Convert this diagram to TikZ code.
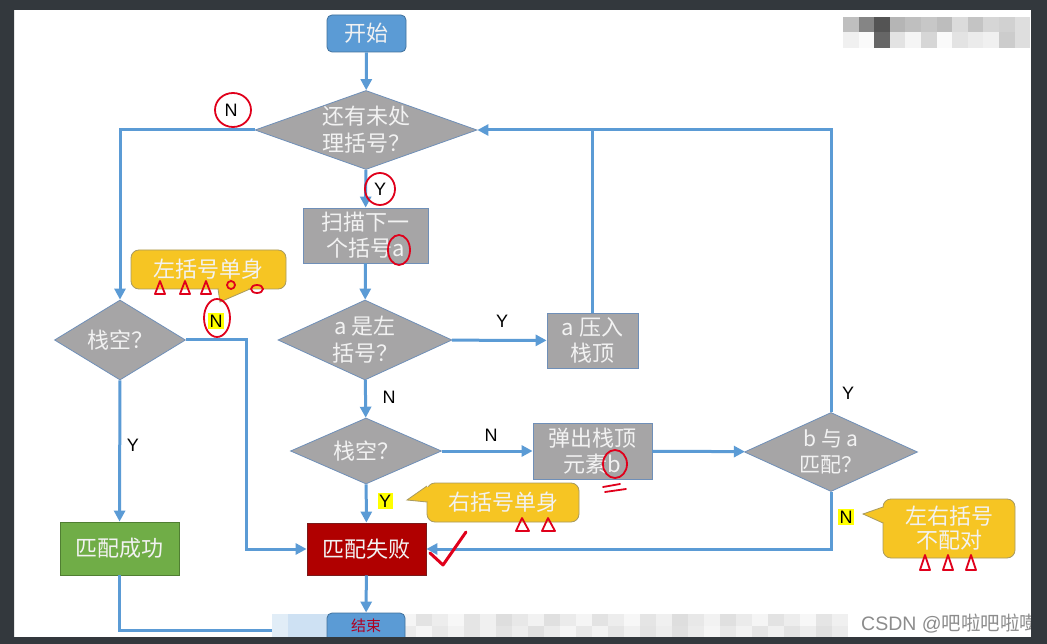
\documentclass[tikz,border=0pt]{standalone}
\usepackage{fontspec}
\setmainfont{Noto Sans CJK SC}
\newfontfamily\lat{Liberation Sans}
\usetikzlibrary{shapes.geometric,arrows.meta,calc}
\definecolor{lblue}{HTML}{5B9BD5}
\definecolor{gbox}{HTML}{A6A5A6}
\definecolor{gborder}{HTML}{6F8FB8}
\definecolor{sborder}{HTML}{41719C}
\definecolor{gfill}{HTML}{70AD47}
\definecolor{gbord}{HTML}{507E32}
\definecolor{rfill}{HTML}{B00000}
\definecolor{rbord}{HTML}{7A1A1A}
\definecolor{cfill}{HTML}{F6C523}
\definecolor{cbord}{HTML}{A89A60}
\definecolor{txtc}{HTML}{F2F2F2}
\definecolor{penred}{HTML}{E0001B}
\definecolor{framec}{HTML}{33383D}
\definecolor{hl}{HTML}{FFFF00}
\definecolor{endred}{HTML}{B00020}
\tikzset{
  line/.style={draw=lblue, line width=3pt},
  arr/.style={line, -{Triangle[length=11pt,width=11pt]}},
  txt/.style={text=txtc, font=\fontsize{22}{27}\selectfont, align=center},
  dia/.style={diamond, draw=gborder, line width=0.8pt, fill=gbox, inner sep=0pt},
  gbx/.style={rectangle, draw=gborder, line width=0.8pt, fill=gbox, inner sep=0pt, txt, font=\fontsize{22}{26}\selectfont},
  sbox/.style={rectangle, rounded corners=5pt, draw=sborder, line width=0.8pt, fill=lblue, inner sep=0pt, txt},
  callout/.style={rectangle, rounded corners=8pt, fill=cfill, draw=cbord, line width=0.8pt, inner sep=0pt, txt, font=\fontsize{22}{24}\selectfont},
  lab/.style={font=\lat\fontsize{18}{18}\selectfont, text=black, inner sep=1pt},
  hlab/.style={lab, fill=hl, inner sep=1.5pt},
  redpen/.style={draw=penred, line width=1.8pt, line cap=round, line join=round}
}
\begin{document}
\begin{tikzpicture}[x=1pt,y=-1pt]
\useasboundingbox (0,0) rectangle (1047,644);
\fill[white] (0,0) rectangle (1047,644);

% nodes
\node[sbox, minimum width=79pt, minimum height=37pt] (start) at (366.5,33.5) {开始};
\node[dia, minimum width=222pt, minimum height=79pt, label={[txt]center:{还有未处\\理括号？}}] (d1) at (366,130) {};
\node[gbx, minimum width=125pt, minimum height=55pt] (b1) at (365.5,235.5) {扫描下一\\个括号a};
\node[dia, minimum width=174pt, minimum height=80pt, label={[txt]center:{a 是左\\括号？}}] (d2) at (365,340) {};
\node[gbx, minimum width=91pt, minimum height=55pt] (b2) at (592.5,340.5) {a 压入\\栈顶};
\node[dia, minimum width=151pt, minimum height=66pt, label={[txt]center:{栈空？}}] (d3) at (366,451) {};
\node[gbx, minimum width=119pt, minimum height=56pt] (b3) at (592.5,451) {弹出栈顶\\元素b};
\node[dia, minimum width=173pt, minimum height=79pt, label={[txt, font=\fontsize{21}{26}\selectfont]center:{b 与 a\\匹配？}}] (d4) at (831,452) {};
\node[dia, minimum width=131pt, minimum height=80pt, label={[txt]center:{栈空？}}] (d5) at (120,340) {};
\node[rectangle, draw=gbord, line width=0.8pt, fill=gfill, inner sep=0pt, txt, minimum width=119pt, minimum height=53pt] (succ) at (119.5,548.5) {匹配成功};
\node[rectangle, draw=rbord, line width=0.8pt, fill=rfill, inner sep=0pt, txt, minimum width=119pt, minimum height=52pt] (fail) at (366.5,549) {匹配失败};

\coordinate (j1) at (593,130);
\coordinate (k1) at (246,340);
\coordinate (k2) at (280,630);

% connectors
\draw[arr] (start) -- (d1);
\draw[arr] (d1) -- (b1);
\draw[arr] (b1) -- (d2);
\draw[arr] (d2) -- (b2);
\draw[arr] (b2.north) |- (d1.east);
\draw[arr] (d2) -- (d3);
\draw[arr] (d3) -- (b3);
\draw[arr] (b3) -- (d4);
\draw[line] (d4.north) |- (j1);
\draw[arr] (d4.south) |- (fail.east);
\draw[arr] (d3) -- (fail);
\draw[arr] (d1.west) -| (d5.north);
\draw[arr] (d5) -- (succ);
\draw[arr] (d5.east) -- (k1) |- (fail.west);
\draw[line] (succ.south) |- (k2);

% labels
\node[lab] (l1) at (231,110) {N};
\node[lab] (l2) at (380,189) {Y};
\node[lab] (l3) at (502,321) {Y};
\node[lab] (l4) at (389,397) {N};
\node[lab] (l5) at (491,435) {N};
\node[hlab] (l6) at (385,501) {Y};
\node[hlab] (l7) at (216,321) {N};
\node[lab] (l8) at (133,445) {Y};
\node[lab] (l9) at (848,393) {Y};
\node[hlab] (l10) at (846,517) {N};

% callouts
\node[callout, minimum width=155pt, minimum height=39pt] (c1) at (208.5,269.5) {左括号单身};
\fill[cfill] (218,289) -- (220,302) -- (250,289) -- cycle;
\fill[cfill] (219,287.5) rectangle (248,290);
\draw[cbord, line width=0.8pt] (218,289) -- (220,302) -- (250,289);

\node[callout, minimum width=152pt, minimum height=39pt] (c2) at (503,502.5) {右括号单身};
\fill[cfill] (427,486) -- (407,500) -- (427,502) -- cycle;
\fill[cfill] (425.5,487) rectangle (429,501);
\draw[cbord, line width=0.8pt] (427,486) -- (407,500) -- (427,502);

\node[callout, minimum width=132pt, minimum height=59pt] (c3) at (949,528.5) {左右括号\\不配对};
\fill[cfill] (883,507) -- (863,514) -- (883,523) -- cycle;
\fill[cfill] (881.5,508) rectangle (885,522);
\draw[cbord, line width=0.8pt] (883,507) -- (863,514) -- (883,523);

% red annotations
\draw[redpen] (233,110) ellipse [x radius=18pt, y radius=17pt];
\draw[redpen] (380,189) ellipse [x radius=15pt, y radius=16pt];
\draw[redpen] (399,250) ellipse [x radius=11pt, y radius=15pt];
\draw[redpen] (217,318) ellipse [x radius=13pt, y radius=19pt];
\draw[redpen] (615,464) ellipse [x radius=12pt, y radius=14pt];
\draw[redpen] (603,487) -- (620,484) (605,492) -- (626,489);
\foreach \x in {160,185,206} \draw[redpen] (\x-5,294) -- (\x,281) -- (\x+5,294) -- cycle;
\draw[redpen] (231,285) circle [radius=4pt];
\draw[redpen] (257,289) ellipse [x radius=6pt, y radius=4pt];
\foreach \x in {523,549} \draw[redpen] (\x-7,531) -- (\x-1,518) -- (\x+6,531) -- cycle;
\foreach \x in {925,948,971} \draw[redpen] (\x-5,570) -- (\x,555) -- (\x+5,570) -- cycle;
\draw[redpen, line width=3pt] (430,553) -- (443,565) -- (466,532);

% bottom mosaic
\foreach \i in {0,...,35} {
  \pgfmathsetmacro\g{3+mod(\i*7,11)}
  \pgfmathsetmacro\h{4+mod(\i*5,9)}
  \fill[black!\g] (272+16*\i,614) rectangle ++(16,12);
  \fill[black!\h] (272+16*\i,626) rectangle ++(16,11);
}
\fill[lblue!30] (272,614) rectangle ++(56,23);
\fill[lblue!18] (272,614) rectangle ++(16,23);
\node[rectangle, rounded corners=5pt, draw=sborder, line width=0.8pt, fill=lblue, inner sep=0pt, minimum width=78pt, minimum height=34pt, text=endred, font=\fontsize{15}{15}\selectfont, text depth=10pt] (end) at (366,630) {结束};
\draw[arr] (fail) -- (end);

% top mosaic
\foreach \v [count=\i from 0] in {25,48,67,29,25,22,26,14,23,16,18,13}
  \fill[black!\v] (843+15.6*\i,17) rectangle ++(15.6,15);
\foreach \v [count=\i from 0] in {6,2,60,11,4,16,2,11,8,6,20,13}
  \fill[black!\v] (843+15.6*\i,32) rectangle ++(15.6,16);

% watermark
\node[anchor=west, inner sep=0pt, text=black!45, font=\fontsize{19.5}{19.5}\selectfont] (wm) at (861,624) {{\lat CSDN @}吧啦吧啦嘭};

% screen frame
\fill[framec, even odd rule] (0,0) rectangle (1047,644) (14,10) rectangle (1031,637);
\end{tikzpicture}
\end{document}
